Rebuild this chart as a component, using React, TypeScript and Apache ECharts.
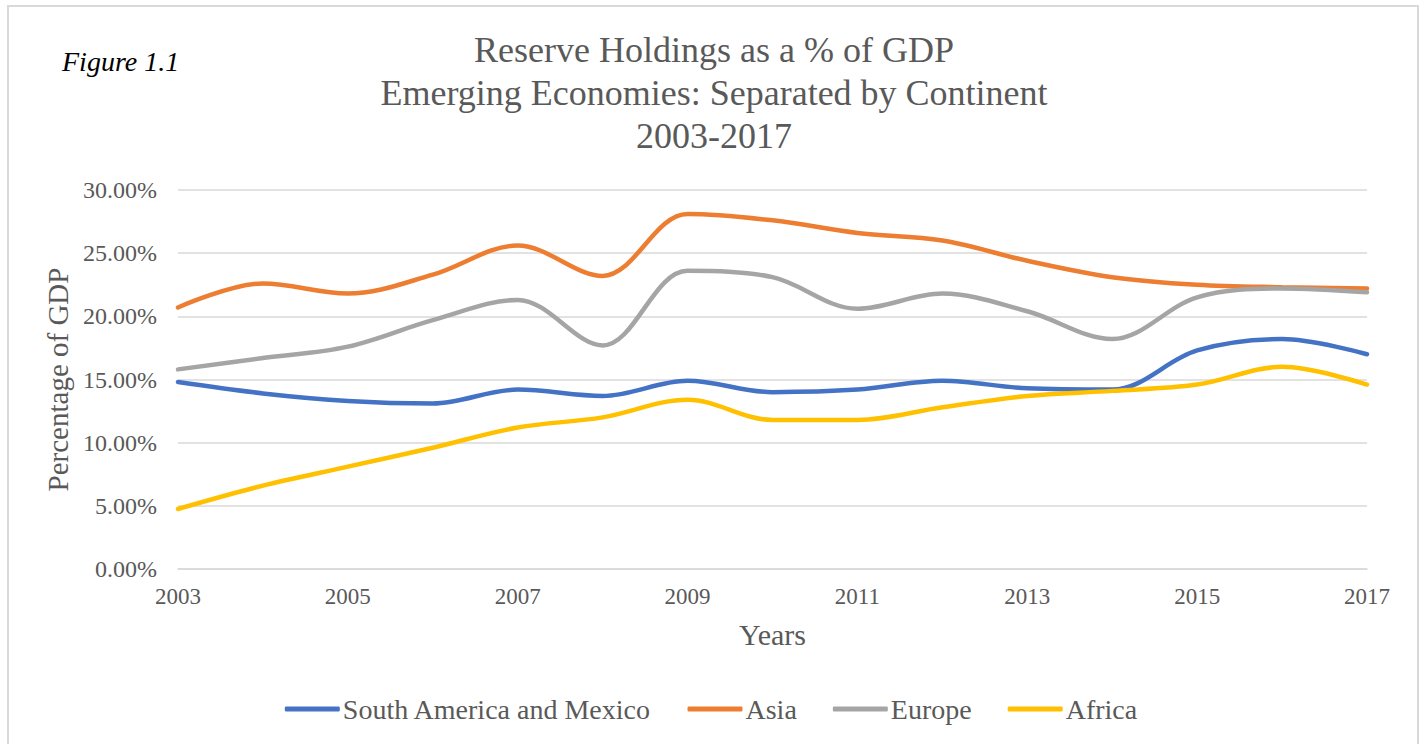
import React, { useEffect, useRef } from "react";
import * as echarts from "echarts";

const years = ["2003","2004","2005","2006","2007","2008","2009","2010","2011","2012","2013","2014","2015","2016","2017"];
const southAmerica = [14.8, 13.9, 13.3, 13.1, 14.2, 13.7, 14.9, 14.0, 14.2, 14.9, 14.3, 14.2, 17.3, 18.2, 17.0];
const asia = [20.7, 22.6, 21.8, 23.3, 25.6, 23.2, 28.1, 27.6, 26.6, 26.0, 24.4, 23.1, 22.5, 22.3, 22.2];
const europe = [15.8, 16.7, 17.6, 19.7, 21.3, 17.7, 23.6, 23.1, 20.6, 21.8, 20.4, 18.2, 21.5, 22.2, 21.9];
const africa = [4.75, 6.6, 8.1, 9.6, 11.2, 12.0, 13.4, 11.8, 11.8, 12.8, 13.7, 14.1, 14.6, 16.0, 14.6];
const yTicks = { min: 0, max: 30, interval: 5 };

const FONT = '"Liberation Serif", "Times New Roman", serif';
const GREY = "#595959";

export default function App() {
  const ref = useRef<HTMLDivElement>(null);
  useEffect(() => {
    if (!ref.current) return;
    const chart = echarts.init(ref.current, undefined, { renderer: "svg" });
    const mk = (name: string, data: number[], color: string) => ({
      name,
      type: "line",
      data,
      smooth: 0.35,
      symbol: "none",
      lineStyle: { color, width: 4.5, cap: "round" },
      itemStyle: { color },
    });
    chart.setOption({
      animation: false,
      backgroundColor: "#ffffff",
      title: {
        text: "Reserve Holdings as a % of GDP\nEmerging Economies: Separated by Continent\n2003-2017",
        left: 714,
        top: 28,
        textAlign: "center",
        padding: 0,
        textStyle: {
          fontFamily: FONT,
          fontSize: 36,
          fontWeight: "normal",
          color: GREY,
          lineHeight: 43,
        },
      },
      graphic: [
        {
          type: "rect",
          shape: { x: 8, y: 6, width: 1410, height: 800 },
          style: { fill: "none", stroke: "#d9d9d9", lineWidth: 2 },
          silent: true,
        },
        {
          type: "text",
          left: 62,
          top: 47,
          style: {
            text: "Figure 1.1",
            fontFamily: FONT,
            fontStyle: "italic",
            fontSize: 28,
            fill: "#000000",
          },
        },
      ],
      legend: {
        bottom: 16,
        left: "center",
        icon: "roundRect",
        itemWidth: 55,
        itemHeight: 5,
        itemGap: 36,
        textStyle: { fontFamily: FONT, fontSize: 28, color: GREY, padding: [0, 0, 0, -2] },
        data: ["South America and Mexico", "Asia", "Europe", "Africa"],
      },
      grid: { left: 178, right: 55, top: 190, bottom: 175 },
      xAxis: {
        type: "category",
        data: years,
        boundaryGap: false,
        name: "Years",
        nameLocation: "middle",
        nameGap: 50,
        nameTextStyle: { fontFamily: FONT, fontSize: 30, color: GREY },
        axisLine: { show: true, lineStyle: { color: "#d9d9d9", width: 1.5 } },
        axisTick: { show: false },
        axisLabel: { interval: 1, fontFamily: FONT, fontSize: 23, color: GREY, margin: 16 },
      },
      yAxis: {
        type: "value",
        min: yTicks.min,
        max: yTicks.max,
        interval: yTicks.interval,
        name: "Percentage of GDP",
        nameLocation: "middle",
        nameGap: 99,
        nameTextStyle: { fontFamily: FONT, fontSize: 29, color: GREY },
        axisLine: { show: false },
        axisTick: { show: false },
        splitLine: { lineStyle: { color: "#d9d9d9", width: 1.5 } },
        axisLabel: {
          fontFamily: FONT,
          fontSize: 24,
          color: GREY,
          margin: 21,
          formatter: (v: number) => v.toFixed(2) + "%",
        },
      },
      series: [
        mk("South America and Mexico", southAmerica, "#4472c4"),
        mk("Asia", asia, "#ed7d31"),
        mk("Europe", europe, "#a5a5a5"),
        mk("Africa", africa, "#ffc000"),
      ],
    });
    return () => chart.dispose();
  }, []);
  return (
    <div
      ref={ref}
      style={{ position: "fixed", left: 0, top: 0, width: 1422, height: 744, background: "#fff" }}
    />
  );
}
